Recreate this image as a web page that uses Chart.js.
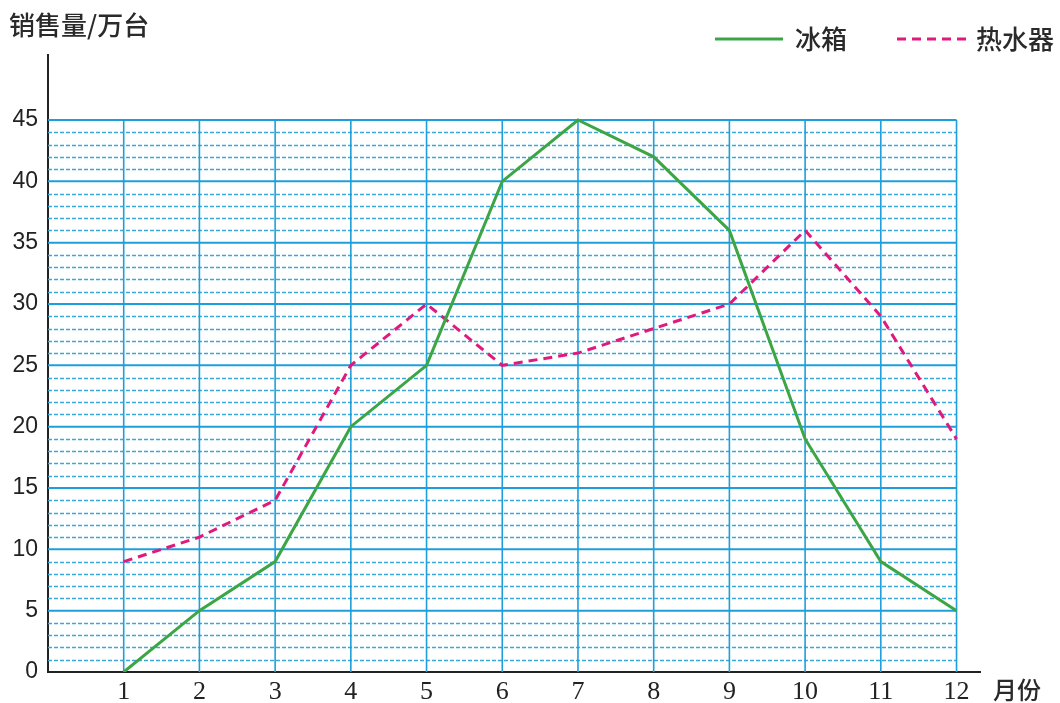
<!DOCTYPE html>
<html>
<head>
<meta charset="utf-8">
<script src="https://cdn.jsdelivr.net/npm/chart.js@4.4.1/dist/chart.umd.min.js"></script>
<style>
  html, body { margin: 0; padding: 0; background: #fff; }
  #wrap { width: 1060px; height: 703px; position: relative; }
</style>
</head>
<body>
<div id="wrap"><canvas id="salesChart"></canvas></div>
<script>
const months = [1, 2, 3, 4, 5, 6, 7, 8, 9, 10, 11, 12];
const fridge = [0, 5, 9, 20, 25, 40, 45, 42, 36, 19, 9, 5];
const heater = [9, 11, 14, 25, 30, 25, 26, 28, 30, 36, 29, 19];
const yTicks = [0, 5, 10, 15, 20, 25, 30, 35, 40, 45];
const yTitle = '销售量/万台';
const xTitle = '月份';
const seriesNames = ['冰箱', '热水器'];

const green = '#3ca646';
const pink = '#e0197f';
const gridBlue = '#1e9fdb';
const cjkFont = '"Noto Sans CJK SC", "Noto Sans", sans-serif';
const numFont = '"Liberation Serif", "DejaVu Serif", serif';
const sansFont = '"Liberation Sans", Arial, sans-serif';

// grid behind the lines, drawn from the scales
const gridPlugin = {
  id: 'paperGrid',
  beforeDatasetsDraw(chart) {
    const { ctx, scales: { x, y } } = chart;
    const left = x.getPixelForValue(0);
    const right = x.getPixelForValue(months[months.length - 1]);
    const top = y.getPixelForValue(45);
    const bottom = y.getPixelForValue(0);
    ctx.save();
    // minor dashed lines, every unit
    ctx.strokeStyle = '#3aa8d8';
    ctx.lineWidth = 1.3;
    ctx.setLineDash([4, 2]);
    for (let v = 1; v < 45; v++) {
      if (v % 5 === 0) continue;
      const py = Math.round(y.getPixelForValue(v)) + 0.5;
      ctx.beginPath();
      ctx.moveTo(left, py);
      ctx.lineTo(right, py);
      ctx.stroke();
    }
    ctx.setLineDash([]);
    // major lines
    ctx.strokeStyle = gridBlue;
    ctx.lineWidth = 2;
    yTicks.forEach(v => {
      if (v === 0) return;
      const py = y.getPixelForValue(v);
      ctx.beginPath();
      ctx.moveTo(left, py);
      ctx.lineTo(right, py);
      ctx.stroke();
    });
    ctx.lineWidth = 1.6;
    months.forEach(m => {
      const px = x.getPixelForValue(m);
      ctx.beginPath();
      ctx.moveTo(px, top);
      ctx.lineTo(px, bottom);
      ctx.stroke();
    });
    ctx.restore();
  },
  afterDraw(chart) {
    const { ctx } = chart;
    ctx.save();
    ctx.fillStyle = '#2a2a2a';
    ctx.textBaseline = 'middle';
    ctx.font = '500 26px ' + cjkFont;
    ctx.fillText(yTitle, 9, 25);
    ctx.font = '500 24px ' + cjkFont;
    ctx.fillText(xTitle, 993, 690);
    // legend
    ctx.font = '500 26px ' + cjkFont;
    ctx.lineWidth = 3;
    ctx.strokeStyle = green;
    ctx.beginPath();
    ctx.moveTo(715, 39);
    ctx.lineTo(783, 39);
    ctx.stroke();
    ctx.fillText(seriesNames[0], 795, 39);
    ctx.strokeStyle = pink;
    ctx.setLineDash([9, 6]);
    ctx.beginPath();
    ctx.moveTo(897, 39);
    ctx.lineTo(967, 39);
    ctx.stroke();
    ctx.setLineDash([]);
    ctx.fillText(seriesNames[1], 976, 39);
    ctx.restore();
  }
};

const ctx = document.getElementById('salesChart').getContext('2d');
const salesChart = new Chart(ctx, {
  type: 'line',
  data: {
    datasets: [{
      label: seriesNames[0],
      data: months.map((m, i) => ({ x: m, y: fridge[i] })),
      borderColor: green,
      borderWidth: 3,
      pointRadius: 0,
      tension: 0,
      fill: false
    }, {
      label: seriesNames[1],
      data: months.map((m, i) => ({ x: m, y: heater[i] })),
      borderColor: pink,
      borderWidth: 3,
      borderDash: [9, 6],
      pointRadius: 0,
      tension: 0,
      fill: false
    }]
  },
  options: {
    responsive: true,
    maintainAspectRatio: false,
    animation: false,
    layout: {
      padding: { left: 0, top: 55, right: 80, bottom: 0 }
    },
    plugins: {
      legend: { display: false },
      title: { display: false },
      tooltip: { enabled: false }
    },
    scales: {
      x: {
        type: 'linear',
        min: 0,
        max: 12.31,
        afterBuildTicks: scale => { scale.ticks = months.map(v => ({ value: v })); },
        afterFit: scale => { scale.height = 31; },
        grid: { display: false, drawTicks: false },
        border: { display: true, color: '#222', width: 2 },
        ticks: {
          color: '#222',
          padding: 5,
          maxRotation: 0,
          autoSkip: false,
          font: { family: numFont, size: 26 }
        }
      },
      y: {
        min: 0,
        max: 50.3,
        afterBuildTicks: scale => { scale.ticks = yTicks.map(v => ({ value: v })); },
        afterFit: scale => { scale.width = 48; },
        grid: { display: false, drawTicks: false },
        border: { display: true, color: '#222', width: 2 },
        ticks: {
          color: '#222',
          padding: 10,
          font: { family: sansFont, size: 23 }
        }
      }
    }
  },
  plugins: [gridPlugin]
});
</script>
</body>
</html>
